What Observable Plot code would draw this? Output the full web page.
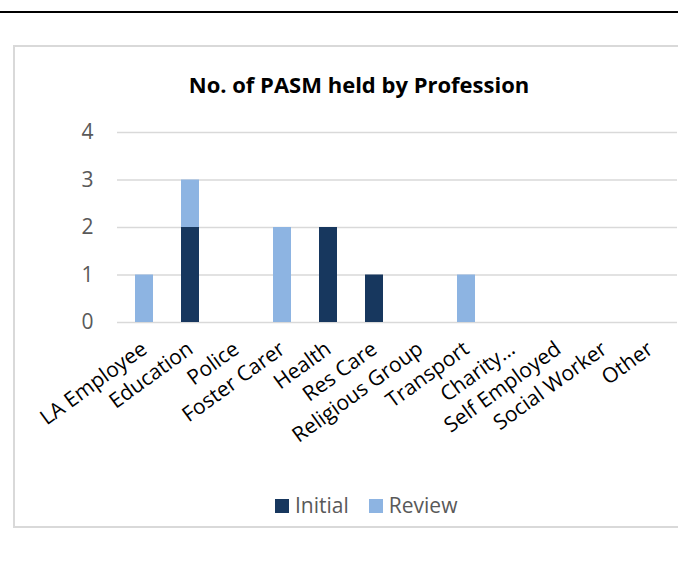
<!DOCTYPE html>
<html>
<head>
<meta charset="utf-8">
<script src="https://cdn.jsdelivr.net/npm/d3@7"></script>
<script src="https://cdn.jsdelivr.net/npm/@observablehq/plot@0.6"></script>
<style>
  html, body { margin: 0; padding: 0; background: #fff; }
  #page { position: relative; width: 678px; height: 562px; overflow: hidden; font-family: "Open Sans", sans-serif; }
  #topline { position: absolute; left: 0; top: 11px; width: 678px; height: 2px; background: #000; }
  #frame { position: absolute; left: 13px; top: 45px; width: 720px; height: 483px; border: 2px solid #d9d9d9; box-sizing: border-box; }
  #title { position: absolute; left: 0; width: 718px; top: 73px; text-align: center; font-weight: 700; font-size: 22px; line-height: 22px; color: #000; white-space: nowrap; }
  #chart { position: absolute; left: 0; top: 0; }
  #legend { position: absolute; top: 495px; left: 275px; font-size: 21px; line-height: 21px; color: #595959; white-space: nowrap; }
  .sw { display: inline-block; width: 14px; height: 14px; vertical-align: 0px; margin-right: 6px; }
  .item { display: inline-block; margin-right: 20px; }
</style>
</head>
<body>
<div id="page">
  <div id="topline"></div>
  <div id="frame"></div>
  <div id="title">No. of PASM held by Profession</div>
  <div id="chart"></div>
  <div id="legend"></div>
</div>
<script>
const categories = ["LA Employee", "Education", "Police", "Foster Carer", "Health", "Res Care", "Religious Group", "Transport", "Charity…", "Self Employed", "Social Worker", "Other"];
const seriesNames = ["Initial", "Review"];
const initialValues = [0, 2, 0, 0, 2, 1, 0, 0, 0, 0, 0, 0];
const reviewValues  = [1, 1, 0, 2, 0, 0, 0, 1, 0, 0, 0, 0];
const yTicks = [0, 1, 2, 3, 4];
const seriesColors = ["#17375e", "#8db4e2"];

const data = [];
categories.forEach((c, i) => {
  data.push({category: c, series: "Initial", value: initialValues[i]});
  data.push({category: c, series: "Review", value: reviewValues[i]});
});

const H = 470;
const chart = Plot.plot({
  width: 678,
  height: H,
  marginLeft: 117,
  marginRight: 1,
  marginTop: 132,
  marginBottom: H - 322,
  style: {fontFamily: "Open Sans", fontSize: "21px", background: "transparent", overflow: "visible"},
  x: {domain: categories, paddingInner: 0.6, paddingOuter: 0.3, label: null},
  y: {domain: [0, 4], label: null},
  color: {domain: seriesNames, range: seriesColors},
  marks: [
    Plot.ruleY(yTicks, {stroke: "#d9d9d9", strokeWidth: 1.6}),
    Plot.barY(data, {x: "category", y: "value", fill: "series", order: seriesNames}),
    Plot.axisY({ticks: yTicks, tickSize: 0, tickPadding: 24, fontSize: 21, fill: "#595959", label: null, tickFormat: d => String(d)}),
    Plot.axisX({tickSize: 0, tickRotate: -36, tickPadding: 24, fontSize: 21, fill: "#000", textAnchor: "end", lineAnchor: "middle", label: null})
  ]
});
document.getElementById("chart").appendChild(chart);

const legend = document.getElementById("legend");
seriesNames.forEach((s, i) => {
  const item = document.createElement("span");
  item.className = "item";
  const sw = document.createElement("span");
  sw.className = "sw";
  sw.style.background = seriesColors[i];
  item.appendChild(sw);
  item.appendChild(document.createTextNode(s));
  legend.appendChild(item);
});
</script>
</body>
</html>
